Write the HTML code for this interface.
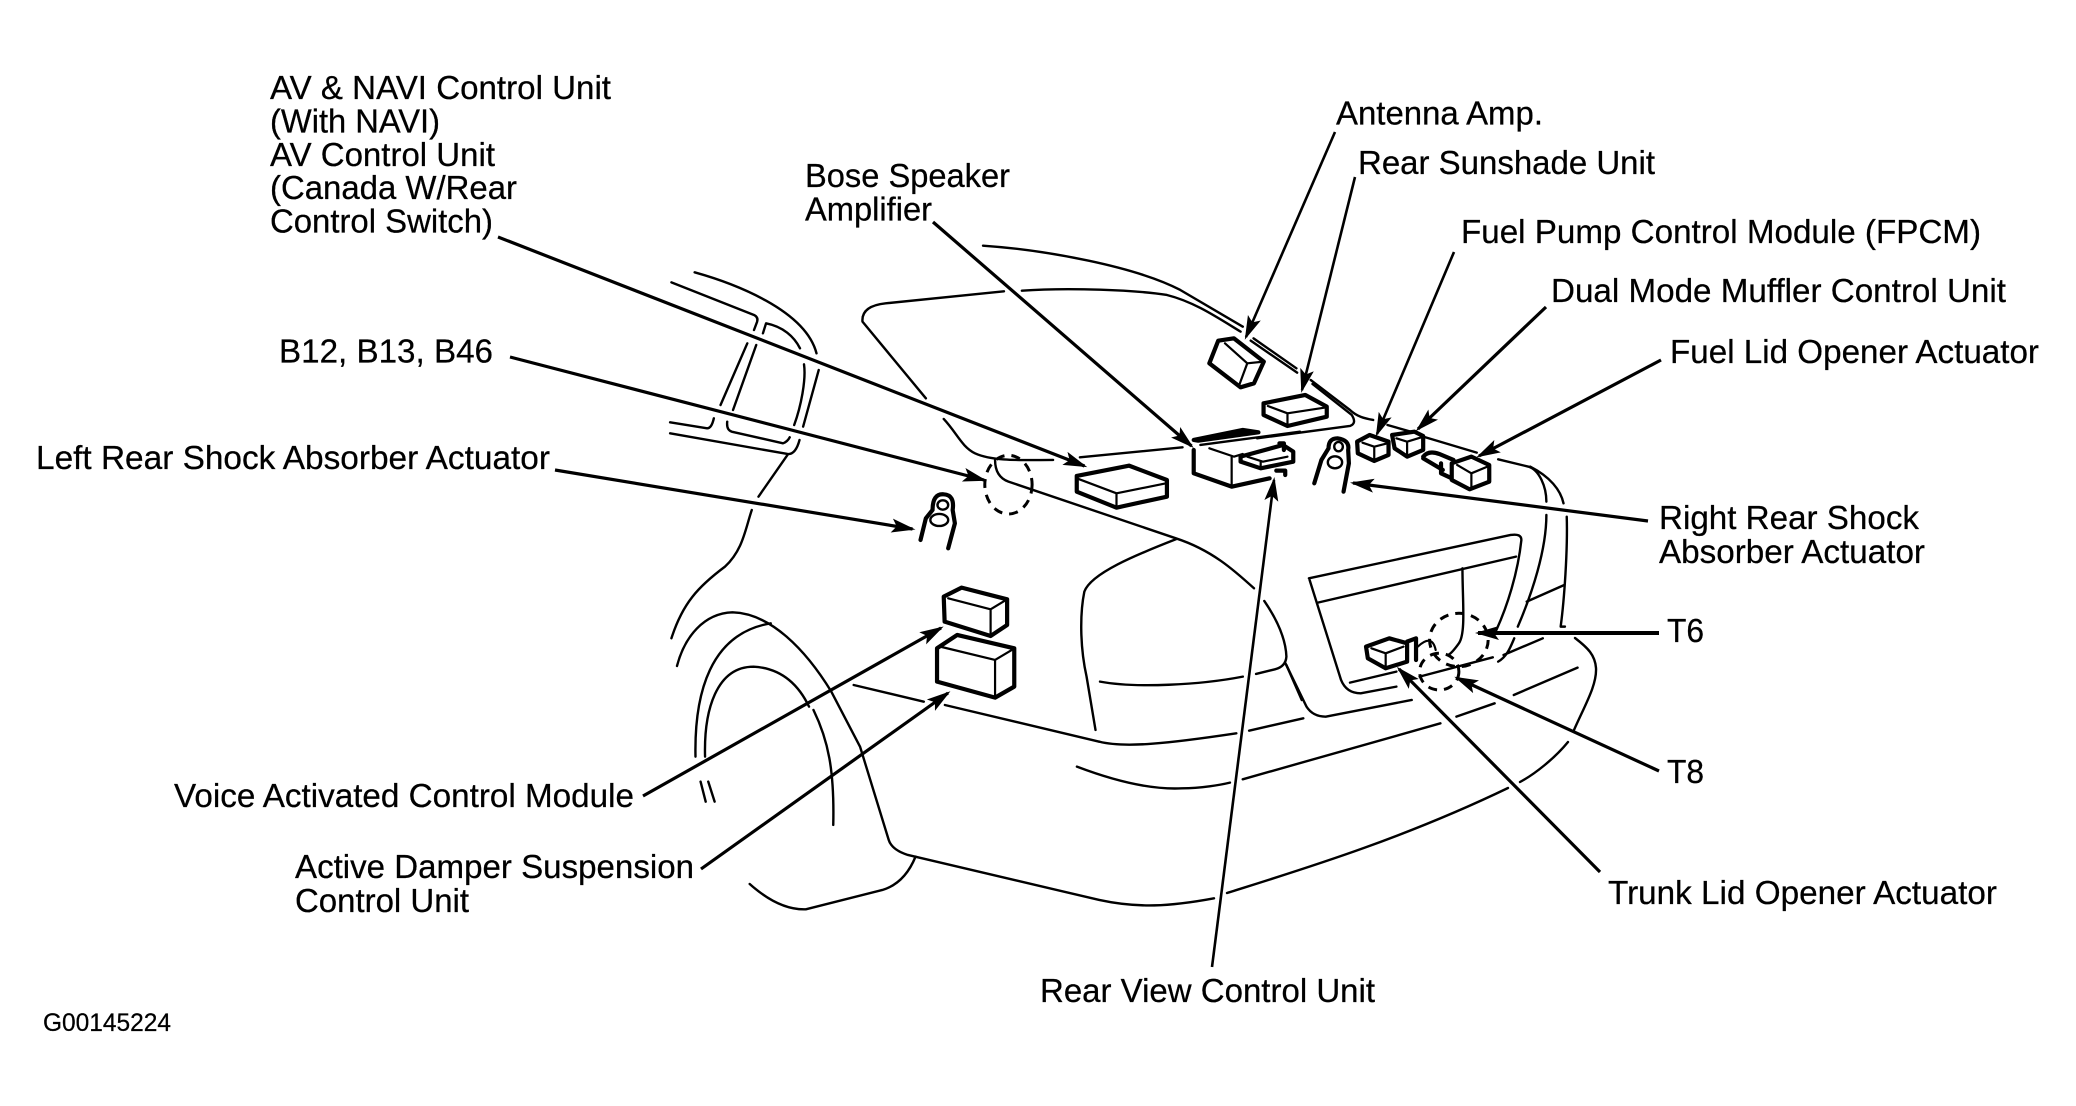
<!DOCTYPE html>
<html><head><meta charset="utf-8"><style>
html,body{margin:0;padding:0;background:#fff;width:2076px;height:1106px;overflow:hidden}
svg{display:block}
path,ellipse,line{vector-effect:non-scaling-stroke;fill:none;stroke:#000;stroke-width:2.4;stroke-linecap:round;stroke-linejoin:round}
.h path{stroke-width:4.2}
.h path.i{stroke-width:2.2}
.w{fill:#fff!important}
.k{fill:#000!important;stroke-width:1}
.d{stroke-width:3;stroke-dasharray:9 7;stroke-linecap:butt}
.a line{stroke-width:3.2;stroke-linecap:butt}
.a line.t{stroke-width:2.6}
.a line.b{stroke-width:4}
text{font-family:"Liberation Sans",sans-serif;font-size:33.5px;fill:#000;stroke:#000;stroke-width:.25}
</style></head><body>
<svg width="2076" height="1106" viewBox="0 0 2076 1106" xmlns="http://www.w3.org/2000/svg">
<defs><marker id="m" markerUnits="userSpaceOnUse" markerWidth="30" markerHeight="20" refX="21" refY="8" orient="auto" viewBox="0 0 30 16"><path d="M0 1 L24 8 L0 15 L5 8z" style="fill:#000;stroke:none"/></marker></defs>

<g transform="translate(600 230) scale(.4464 .3333)">
<path d="M858 47C1000 60 1200 110 1300 180L1440 290"/>
<path d="M945 182C1050 172 1200 180 1270 195C1330 215 1380 260 1435 305"/>
<path d="M905 184L640 220Q585 228 588 275L730 505"/>
<path d="M770 567C800 610 810 650 840 670C880 695 950 690 1015 690"/>
<path d="M1075 682L1305 652"/>
<path d="M160 157L345 255Q355 262 352 275L345 300"/>
<path d="M330 340L270 525"/>
<path d="M212 127C300 160 460 240 485 370"/>
<path d="M365 310L372 280C410 290 435 320 448 355"/>
<path d="M457 403C462 450 450 530 435 585"/>
<path d="M490 420L455 590"/>
<path d="M350 345L298 540"/>
<path d="M285 575Q283 600 295 605L410 640Q420 635 425 622"/>
<path d="M157 577L240 595Q250 595 255 565"/>
<path d="M157 610L420 672Q438 675 447 630"/>
<path d="M420 675L355 800"/>
<path d="M340 840C325 900 320 960 280 1010C220 1070 185 1120 160 1225"/>
<path d="M885 690Q885 740 915 755L1290 925C1370 960 1420 1020 1465 1075"/>
<path d="M1290 928C1200 975 1100 1030 1085 1085C1075 1150 1075 1250 1090 1340L1110 1500"/>
<ellipse class="d" cx="915" cy="764" rx="53" ry="88"/>
<g class="h">
<path class="w" d="M1068 738L1185 707L1270 750V800L1157 833L1068 785Z"/>
<path class="i" d="M1068 745L1157 790L1268 760M1157 790V830"/>
<path class="w" d="M1385 332L1420 325L1487 395L1465 460L1435 472L1365 400Z"/>
<path class="i" d="M1400 340L1450 400L1487 395M1450 400L1432 465"/>
<path class="w" d="M770 1100L810 1073L912 1108V1185L875 1218L772 1175Z"/>
<path class="i" d="M780 1105L875 1138L912 1108M875 1138V1215"/>
<path class="w" d="M755 1255L800 1215L928 1255V1370L885 1403L755 1355Z"/>
<path class="i" d="M762 1250L885 1290L925 1258M885 1290V1400"/>
<path d="M1330 660V730L1415 770L1500 745"/>
<path class="i" d="M1365 655L1420 680L1440 672M1415 680V770"/>
<path class="w" d="M1435 680L1530 645L1553 665V695L1480 715L1435 695Z"/>
<path class="i" d="M1450 680L1485 695L1540 680M1480 695V712"/>
<path d="M1522 640H1532V660M1515 722H1535V735"/>
<path class="k" d="M1330 630L1440 600L1475 607L1340 632Z"/>
<path d="M718 930L730 865L745 840Q745 790 770 793Q795 795 790 840L795 880L780 955"/>
<ellipse cx="768" cy="825" rx="12" ry="14"/>
<ellipse cx="760" cy="870" rx="20" ry="18"/>
</g>
<path d="M1345 645L1568 605"/>
</g>

<g transform="translate(1100 300) scale(.3571 .3333)">
<path d="M430 115L550 205M422 122L552 218"/>
<path d="M590 240L700 330C720 350 740 355 765 360"/>
<path d="M595 252L705 345Q720 370 700 378L440 415"/>
<path d="M805 375L870 395M905 410L1055 458"/>
<path d="M1115 478L1200 500C1230 510 1250 560 1250 605"/>
<path d="M1205 500C1260 530 1290 570 1298 610"/>
<path d="M1250 645C1250 750 1210 880 1170 980"/>
<path d="M1307 650C1310 750 1300 900 1290 980H1302"/>
<path d="M1195 905L1300 855"/>
<path d="M585 835L1150 705Q1180 700 1180 720C1170 820 1140 920 1110 990"/>
<path d="M610 908L1165 770"/>
<path d="M1015 805C1015 900 1025 1000 1005 1030Q985 1060 975 1065"/>
<path d="M587 840L675 1140Q690 1180 730 1180L830 1160"/>
<path d="M700 1148L830 1115M895 1130L1100 1072"/>
<path d="M1130 1065L1240 1015M1115 1085C1140 1070 1150 1040 1160 1015"/>
<path d="M0 1145C100 1165 280 1155 400 1130"/>
<path d="M437 1122L490 1108Q520 1100 522 1070C520 1010 490 950 460 903"/>
<path d="M522 1095L565 1200"/>
<ellipse class="d" cx="1005" cy="1020" rx="82" ry="80"/>
<ellipse class="d" cx="950" cy="1115" rx="55" ry="55"/>
<g class="h">
<path class="w" d="M458 310L575 285L635 320V350L525 378L458 345Z"/>
<path class="i" d="M470 318L525 340L635 322M525 340V375"/>
<path class="w" d="M720 425L755 405L808 425V465L768 483L722 460Z"/>
<path class="i" d="M735 428L768 440L805 430M768 440V480"/>
<path class="w" d="M818 405L880 395L905 408V450L860 470L825 445Z"/>
<path class="i" d="M830 415L860 425L900 412M860 425V468"/>
<path d="M905 470Q920 450 950 462L990 480M905 475L960 510"/>
<path d="M955 490V520L985 535"/>
<path class="w" d="M985 490L1040 470L1090 495V545L1035 568L985 540Z"/>
<path class="i" d="M1000 495L1040 520L1085 500M1040 520V565"/>
<path d="M600 550L620 480L640 445Q640 415 665 415Q700 420 695 450L697 490L682 575"/>
<ellipse cx="668" cy="440" rx="12" ry="14"/>
<ellipse cx="658" cy="487" rx="20" ry="18"/>
<path class="w" d="M745 1040L810 1015L860 1030V1085L800 1105L750 1075Z"/>
<path class="i" d="M760 1045L800 1060L850 1040M800 1060V1100"/>
<path d="M860 1025L885 1015V1080"/>
<path class="i" d="M890 1040Q930 1000 940 1050"/>
</g>
</g>

<g transform="translate(640 560) scale(.6378 .3333)">
<path d="M58 318C70 230 100 160 145 157C205 160 260 270 300 395L345 560L390 840Q395 870 420 885L720 1020C780 1045 830 1040 900 1015"/>
<path d="M87 590C85 400 110 220 205 190"/>
<path d="M102 590C100 450 120 320 178 320C225 325 250 380 265 440"/>
<path d="M272 450C295 540 305 630 303 795"/>
<path d="M95 665L103 725M107 665L117 725"/>
<path d="M172 972C200 1020 230 1050 260 1048L380 990Q415 970 432 890"/>
<path d="M335 375L445 425M478 435L720 545"/>
<path d="M720 545C760 565 830 550 935 520M955 512L1040 475"/>
<path d="M1012 310L1045 440Q1055 470 1075 470L1210 420"/>
<path d="M685 620C740 660 800 690 850 685C880 685 910 675 925 668"/>
<path d="M945 658L1255 490M1280 470L1340 430M1370 405L1470 323"/>
</g>
<path d="M1227 893C1300 870 1400 840 1508 788M1520 782C1535 774 1555 758 1568 742M1574 730C1585 705 1597 685 1596 668C1595 655 1588 648 1575 638"/>

<g class="a">
<line x1="498" y1="237" x2="1084.5" y2="466" marker-end="url(#m)"/>
<line x1="510" y1="357" x2="984" y2="480" marker-end="url(#m)"/>
<line x1="555" y1="470" x2="912.5" y2="529" marker-end="url(#m)"/>
<line x1="933" y1="222" x2="1191.5" y2="446" marker-end="url(#m)"/>
<line class="t" x1="1335" y1="132" x2="1246" y2="337" marker-end="url(#m)"/>
<line class="t" x1="1355" y1="177" x2="1302" y2="390" marker-end="url(#m)"/>
<line class="t" x1="1454" y1="252" x2="1377" y2="434" marker-end="url(#m)"/>
<line x1="1546" y1="307" x2="1418" y2="429" marker-end="url(#m)"/>
<line x1="1661" y1="360" x2="1479" y2="456" marker-end="url(#m)"/>
<line x1="1648" y1="521" x2="1353" y2="483" marker-end="url(#m)"/>
<line class="b" x1="1659" y1="633" x2="1478" y2="633" marker-end="url(#m)"/>
<line x1="1659" y1="771" x2="1457" y2="678" marker-end="url(#m)"/>
<line x1="1600" y1="872" x2="1399" y2="669" marker-end="url(#m)"/>
<line class="t" x1="1212" y1="967" x2="1274" y2="480" marker-end="url(#m)"/>
<line x1="701" y1="869" x2="948" y2="693" marker-end="url(#m)"/>
<line x1="643" y1="796" x2="941" y2="628" marker-end="url(#m)"/>
</g>

<g>
<text x="270" y="99" textLength="341" lengthAdjust="spacingAndGlyphs">AV &amp; NAVI Control Unit</text>
<text x="270" y="132.5" textLength="170" lengthAdjust="spacingAndGlyphs">(With NAVI)</text>
<text x="270" y="166" textLength="225" lengthAdjust="spacingAndGlyphs">AV Control Unit</text>
<text x="270" y="199" textLength="247" lengthAdjust="spacingAndGlyphs">(Canada W/Rear</text>
<text x="270" y="232.5" textLength="223" lengthAdjust="spacingAndGlyphs">Control Switch)</text>
<text x="279" y="362.5" textLength="214" lengthAdjust="spacingAndGlyphs">B12, B13, B46</text>
<text x="36" y="469" textLength="514" lengthAdjust="spacingAndGlyphs">Left Rear Shock Absorber Actuator</text>
<text x="805" y="187" textLength="205" lengthAdjust="spacingAndGlyphs">Bose Speaker</text>
<text x="805" y="220.5" textLength="127" lengthAdjust="spacingAndGlyphs">Amplifier</text>
<text x="1336" y="124.5" textLength="207" lengthAdjust="spacingAndGlyphs">Antenna Amp.</text>
<text x="1358" y="174" textLength="297" lengthAdjust="spacingAndGlyphs">Rear Sunshade Unit</text>
<text x="1461" y="243" textLength="520" lengthAdjust="spacingAndGlyphs">Fuel Pump Control Module (FPCM)</text>
<text x="1551" y="302" textLength="455" lengthAdjust="spacingAndGlyphs">Dual Mode Muffler Control Unit</text>
<text x="1670" y="363" textLength="369" lengthAdjust="spacingAndGlyphs">Fuel Lid Opener Actuator</text>
<text x="1659" y="529" textLength="260" lengthAdjust="spacingAndGlyphs">Right Rear Shock</text>
<text x="1659" y="563" textLength="266" lengthAdjust="spacingAndGlyphs">Absorber Actuator</text>
<text x="1667" y="642" textLength="37" lengthAdjust="spacingAndGlyphs">T6</text>
<text x="1667" y="783" textLength="37" lengthAdjust="spacingAndGlyphs">T8</text>
<text x="1608" y="904" textLength="389" lengthAdjust="spacingAndGlyphs">Trunk Lid Opener Actuator</text>
<text x="1040" y="1002" textLength="335" lengthAdjust="spacingAndGlyphs">Rear View Control Unit</text>
<text x="295" y="878" textLength="399" lengthAdjust="spacingAndGlyphs">Active Damper Suspension</text>
<text x="295" y="912" textLength="174" lengthAdjust="spacingAndGlyphs">Control Unit</text>
<text x="174" y="807" textLength="460" lengthAdjust="spacingAndGlyphs">Voice Activated Control Module</text>
<text x="43" y="1031" style="font-size:25px" textLength="128" lengthAdjust="spacingAndGlyphs">G00145224</text>
</g>
</svg>
</body></html>
